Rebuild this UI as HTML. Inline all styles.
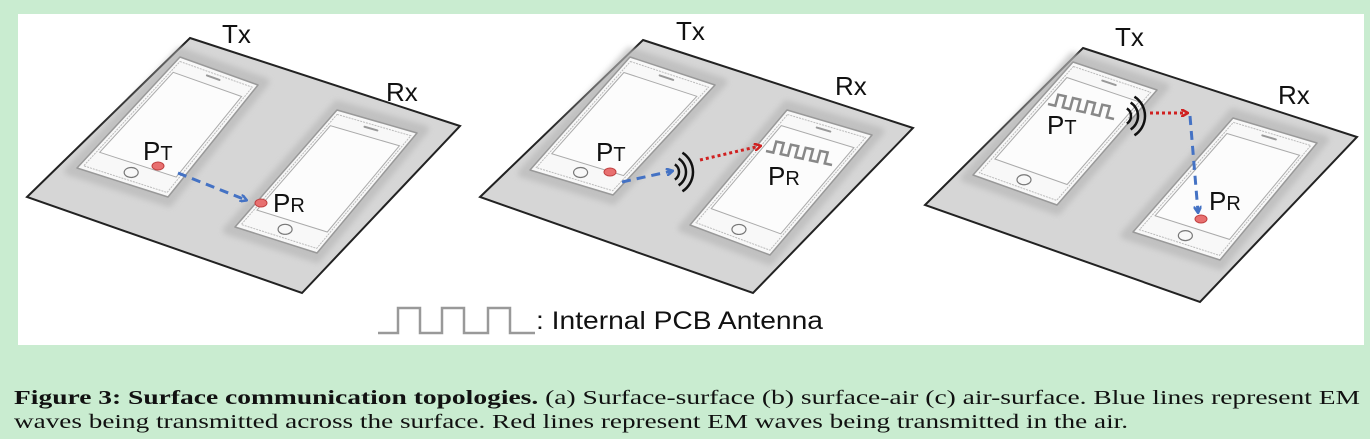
<!DOCTYPE html>
<html><head><meta charset="utf-8"><style>
html,body{margin:0;padding:0;background:#c9ecd0;}
svg{display:block;}
</style></head><body>
<svg id="fig" width="1370" height="439" viewBox="0 0 1370 439" xmlns="http://www.w3.org/2000/svg" font-family="'Liberation Sans', sans-serif">
<defs>
<filter id="blur" x="-20%" y="-20%" width="140%" height="140%"><feGaussianBlur stdDeviation="3"/></filter>
<marker id="ab" markerWidth="8" markerHeight="8" refX="6" refY="4" orient="auto" markerUnits="userSpaceOnUse"><path d="M0,0 L7,4 L0,8" fill="none" stroke="#4472c4" stroke-width="2.5"/></marker>
<marker id="ar" markerWidth="8" markerHeight="8" refX="6" refY="4" orient="auto" markerUnits="userSpaceOnUse"><path d="M0,0 L7,4 L0,8" fill="none" stroke="#d02020" stroke-width="2.5"/></marker>
</defs>
<rect x="0" y="0" width="1370" height="439" fill="#c9ecd0"/>
<rect x="18" y="14" width="1346" height="331" fill="#ffffff"/>
<g id="planes"></g>
<g id="phones"></g>
<g id="overlay"></g>
<g>
<path d="M378,333 L398,333 L398,308 L420,308 L420,333 L442,333 L442,308 L464,308 L464,333 L488,333 L488,308 L510,308 L510,333 L535,333" fill="none" stroke="#999" stroke-width="2.5"/>
<text x="536" y="329" font-size="25" fill="#111" textLength="287" lengthAdjust="spacingAndGlyphs">: Internal PCB Antenna</text>
</g>
<g font-family="'Liberation Serif', serif" font-size="20" fill="#111">
<text x="14" y="404" textLength="1346" lengthAdjust="spacingAndGlyphs"><tspan font-weight="bold">Figure 3: Surface communication topologies.</tspan> (a) Surface-surface (b) surface-air (c) air-surface. Blue lines represent EM</text>
<text x="14" y="428" textLength="1114" lengthAdjust="spacingAndGlyphs">waves being transmitted across the surface. Red lines represent EM waves being transmitted in the air.</text>
</g>
</svg>
<script>
const NS='http://www.w3.org/2000/svg';
function mk(parent,tag,attrs){const e=document.createElementNS(NS,tag);for(const k in attrs)e.setAttribute(k,attrs[k]);parent.appendChild(e);return e;}
const planes=[[[190,38],[460,126],[302,293],[27,197]],[[643,40],[913,128],[753,293],[480,197]],[[1083,48],[1357,137],[1200,302],[925,205]]];
const phones=[[[180,57],[258,85],[168,197],[77,168]],[[337,110],[417,133],[317,253],[235,227]],[[630,57],[715,85],[613,195],[530,170]],[[787,110],[872,135],[770,255],[690,225]],[[1073,62],[1157,90],[1057,205],[973,175]],[[1233,118],[1317,143],[1220,260],[1133,232]]];
const gP=document.getElementById('planes');
planes.forEach((p,i)=>{
 const e=mk(gP,'polygon',{points:p.map(q=>q.join(',')).join(' '),fill:'#d6d6d6',stroke:'#222','stroke-width':2});
 
 
});
function bl(ph,u,v){const [TL,TR,BR,BL]=ph;const top=[TL[0]+(TR[0]-TL[0])*u,TL[1]+(TR[1]-TL[1])*u];const bot=[BL[0]+(BR[0]-BL[0])*u,BL[1]+(BR[1]-BL[1])*u];return [top[0]+(bot[0]-top[0])*v,top[1]+(bot[1]-top[1])*v];}
function quad(ph,u0,u1,v0,v1){return [bl(ph,u0,v0),bl(ph,u1,v0),bl(ph,u1,v1),bl(ph,u0,v1)].map(q=>q.map(n=>n.toFixed(1)).join(',')).join(' ');}
const gPh=document.getElementById('phones');
phones.forEach((ph,i)=>{
 const g=mk(gPh,'g',{});
 
 
 mk(g,'polygon',{points:quad(ph,-0.05,1.05,-0.04,1.04),fill:'#b8b8b8',stroke:'#b8b8b8','stroke-width':8,'stroke-linejoin':'round',filter:'url(#blur)',opacity:0.7});
 mk(g,'polygon',{points:quad(ph,0,1,0,1),fill:'#f8f8f8',stroke:'#999','stroke-width':1.5,'stroke-linejoin':'round'});
 mk(g,'polygon',{points:quad(ph,0.04,0.96,0.03,0.97),fill:'none',stroke:'#bbb','stroke-width':1,'stroke-dasharray':'2,1'});
 mk(g,'polygon',{points:quad(ph,0.07,0.93,0.12,0.84),fill:'#fcfcfc',stroke:'#aaa','stroke-width':1});
 const h=bl(ph,0.5,0.91);
 mk(g,'ellipse',{cx:h[0],cy:h[1],rx:7,ry:5,fill:'none',stroke:'#777','stroke-width':1.2});
 const a=bl(ph,0.42,0.06),b=bl(ph,0.58,0.06);
 mk(g,'line',{x1:a[0],y1:a[1],x2:b[0],y2:b[1],stroke:'#999','stroke-width':2,'stroke-linecap':'round'});
});
const ov=document.getElementById('overlay');
function txt(x,y,s,sub,name,fs){const t=mk(ov,'text',{x:x,y:y,'font-size':fs||26,fill:'#111'});t.textContent=s;if(sub){const ts=mk(t,'tspan',{'font-size':20});ts.textContent=sub;}return t;}
function dot(x,y,name){const e=mk(ov,'ellipse',{cx:x,cy:y,rx:6,ry:4,fill:'#e87070',stroke:'#c04040','stroke-width':1});}
function arrow(x1,y1,x2,y2,col,name){const blue=col==='b';const e=mk(ov,'line',{x1:x1,y1:y1,x2:x2,y2:y2,stroke:blue?'#4472c4':'#d02020','stroke-width':3,'stroke-dasharray':blue?'9,6':'3,3','marker-end':blue?'url(#ab)':'url(#ar)'});}
function arcs(cx,cy,name){const g=mk(ov,'g',{});[9,16,23].forEach(r=>{const a=1.0;mk(g,'path',{d:`M${cx+r*Math.cos(-a)},${cy+r*Math.sin(-a)} A${r},${r} 0 0 1 ${cx+r*Math.cos(a)},${cy+r*Math.sin(a)}`,fill:'none',stroke:'#111','stroke-width':2.5});});}
function wave(x0,y0,x1,y1,name){const n=4;const dx=(x1-x0)/(n*2+1),dy=(y1-y0)/(n*2+1);let x=x0,y=y0;const pts=[[x,y]];
 for(let i=0;i<n;i++){x+=dx;y+=dy;pts.push([x,y]);pts.push([x+3,y-11]);x+=dx;y+=dy;pts.push([x+3,y-11]);pts.push([x,y]);}
 x+=dx;y+=dy;pts.push([x,y]);
 const e=mk(ov,'polyline',{points:pts.map(p=>p.map(n=>n.toFixed(1)).join(',')).join(' '),fill:'none',stroke:'#888','stroke-width':2.5,'stroke-linejoin':'miter'});}
// panel a
txt(222,43,'Tx','', 'label-tx-a');txt(386,101,'Rx','','label-rx-a');
txt(143,160,'P','T','label-pt-a');dot(158,166,'point-pt-a');
arrow(178,173,246,200,'b','arrow-surface-a');
dot(261,203,'point-pr-a');txt(273,212,'P','R','label-pr-a');
// panel b
txt(676,40,'Tx','','label-tx-b');txt(835,95,'Rx','','label-rx-b');
txt(596,161,'P','T','label-pt-b');dot(610,172,'point-pt-b');
arrow(622,182,672,171,'b','arrow-surface-b');
arcs(670,172,'emission-arcs-b');
arrow(700,160,760,146,'r','arrow-air-b');
wave(766,151,832,165,'antenna-pr-b');
txt(768,185,'P','R','label-pr-b');
// panel c
txt(1115,46,'Tx','','label-tx-c');txt(1278,104,'Rx','','label-rx-c');
wave(1048,104,1114,119,'antenna-pt-c');
txt(1047,134,'P','T','label-pt-c');
arcs(1122,116,'emission-arcs-c');
arrow(1150,113,1187,113,'r','arrow-air-c');
arrow(1190,116,1198,212,'b','arrow-surface-c');
dot(1201,219,'point-pr-c');txt(1209,210,'P','R','label-pr-c');
</script>
</body></html>
